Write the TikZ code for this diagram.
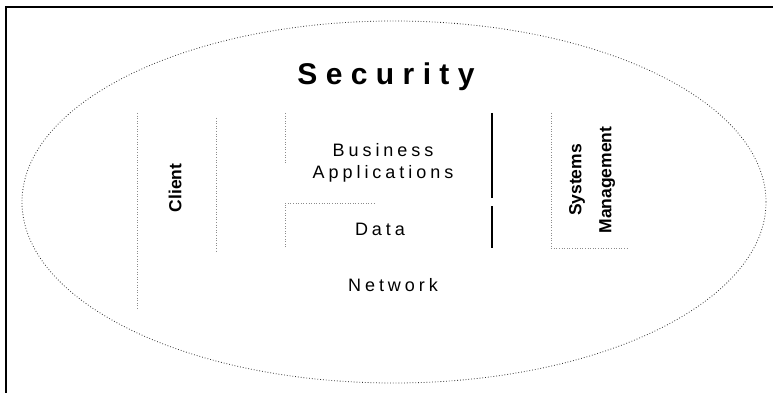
\documentclass[tikz,border=0pt]{standalone}
\usepackage{fontspec}
\setmainfont{Liberation Sans}
\newfontfamily\trackedfont[LetterSpace=22]{Liberation Sans}
\newfontfamily\titlefont[LetterSpace=28]{Liberation Sans}
\usetikzlibrary{positioning}

\begin{document}
\begin{tikzpicture}[
    x=1pt, y=-1pt,
    every node/.style={inner sep=0pt},
    title/.style={font=\titlefont\bfseries\fontsize{30}{36}\selectfont},
    layer/.style={font=\trackedfont\fontsize{18}{22}\selectfont, align=center},
    column/.style={font=\bfseries\fontsize{17.5}{30}\selectfont, align=center, rotate=90},
    ring/.style={draw=black!80, dotted, line width=0.8pt},
    divider/.style={draw=black!45, dotted, line width=0.6pt},
    wall/.style={draw=black, line width=2pt},
    frame/.style={draw=black, line width=1.6pt}
]
    \useasboundingbox (0,0) rectangle (773,393);

    % Frame (cut off on the right and below)
    \draw[frame] (773,7) -- (6,7) -- (6,393);

    % Security ring
    \draw[ring] (394,202) ellipse [x radius=372pt, y radius=181pt];
    \node[title] (security) at (386,77) {Security};

    % Client column
    \draw[divider] (137,113) -- (137,310);
    \draw[divider] (216,118) -- (216,253);
    \node[column] (client) at (175,188) {Client};

    % Business applications and data
    \draw[divider] (285,113) -- (285,163);
    \draw[divider] (285,247) -- (285,203) -- (375,203);
    \draw[wall] (492,113) -- (492,198);
    \draw[wall] (492,206) -- (492,248);
    \node[layer] (apps) at (383,163) {Business\\Applications};
    \node[layer] (data) at (380,229) {Data};

    % Systems management column
    \draw[divider] (551,113) -- (551,248) -- (628,248);
    \node[column] (sysmgmt) at (592,180) {Systems\\Management};

    % Network
    \node[layer] (network) at (393,285) {Network};
\end{tikzpicture}
\end{document}
